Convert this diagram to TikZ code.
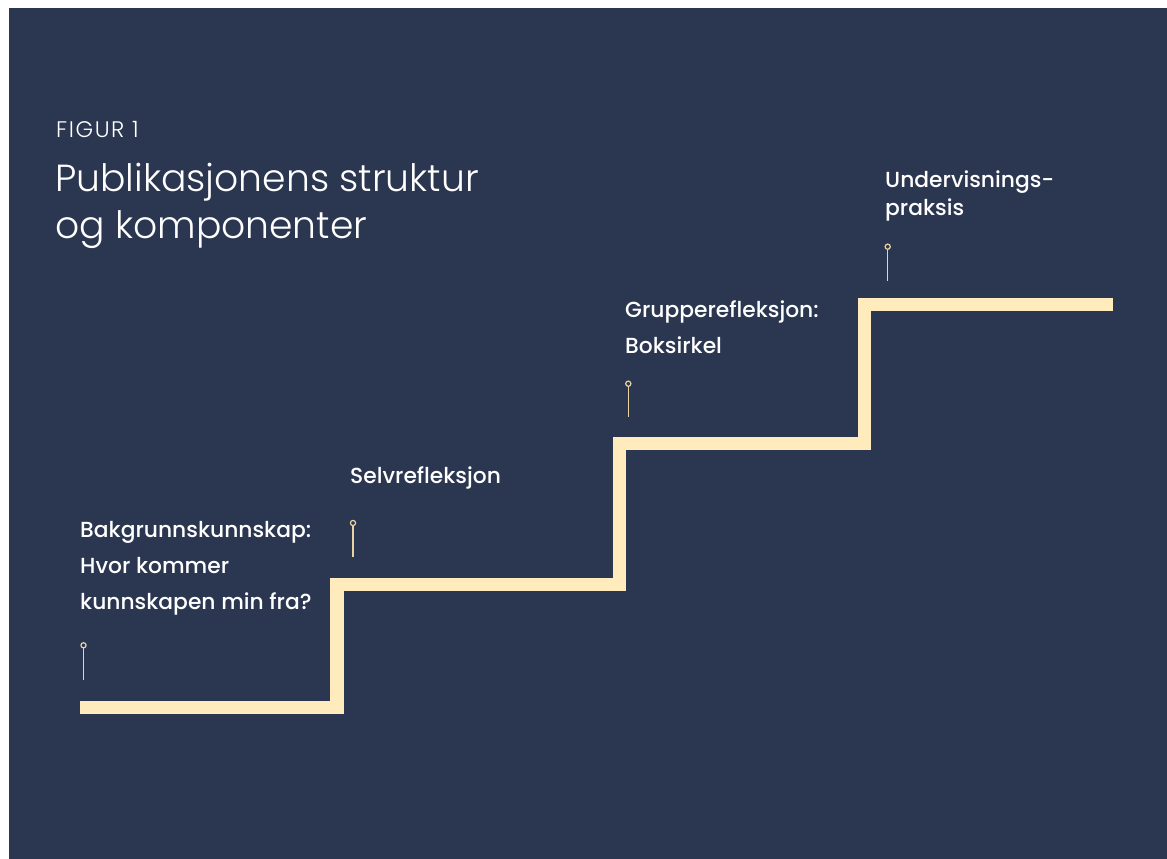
\documentclass[tikz,border=0pt]{standalone}
\usepackage{fontspec}
\setmainfont{Poppins}
\newfontfamily\lightfont{Poppins Light}
\newfontfamily\figfont[LetterSpace=7]{Poppins Light}
\newfontfamily\medfont{Poppins Medium}
\definecolor{bgnavy}{HTML}{2B3650}
\definecolor{stair}{HTML}{FFEBBC}
\definecolor{pin}{HTML}{E8D4A0}
\tikzset{
  label/.style={anchor=base west, inner sep=0pt, text=white, align=left, font=\medfont\fontsize{21.8}{36}\selectfont},
  pinline/.style={draw=pin, line width=1.2pt},
  pinhead/.style={draw=pin, line width=1.2pt, fill=bgnavy},
  stairline/.style={draw=stair, line width=13.5pt, line join=miter, line cap=butt}
}
\begin{document}
\begin{tikzpicture}[x=1pt,y=-1pt]
\useasboundingbox (0,0) rectangle (1167,859);
\fill[white] (0,0) rectangle (1167,859);
\fill[bgnavy] (9,8) rectangle (1167,859);
% titles
\node[anchor=base west, inner sep=0pt, text=white, font=\figfont\fontsize{22.5}{24}\selectfont] (fig) at (56,137) {FIGUR 1};
\node[anchor=base west, inner sep=0pt, text=white, align=left, font=\lightfont\fontsize{37.7}{47}\selectfont] (title) at (55,238) {Publikasjonens struktur\\og komponenter};
% staircase
\coordinate (s0) at (80,707.5);
\coordinate (s1) at (337,707.5);
\coordinate (s2) at (337,584.5);
\coordinate (s3) at (619.5,584.5);
\coordinate (s4) at (619.5,443.5);
\coordinate (s5) at (864.5,443.5);
\coordinate (s6) at (864.5,304.5);
\coordinate (s7) at (1113,304.5);
\draw[stairline] (s0) -- (s1) -- (s2) -- (s3) -- (s4) -- (s5) -- (s6) -- (s7);
% pins
\coordinate (p1) at (83.5,645.3);
\coordinate (p2) at (353,523);
\coordinate (p3) at (628.3,383.7);
\coordinate (p4) at (887.7,246.7);
\draw[pinline] ([yshift=-2.6pt]p1) -- +(0,32);
\draw[pinline] ([yshift=-2.6pt]p2) -- +(0,31);
\draw[pinline] ([yshift=-2.6pt]p3) -- +(0,31);
\draw[pinline] ([yshift=-2.6pt]p4) -- +(0,31.5);
\draw[pinhead] (p1) circle (2.6pt);
\draw[pinhead] (p2) circle (2.6pt);
\draw[pinhead] (p3) circle (2.6pt);
\draw[pinhead] (p4) circle (2.6pt);
% labels
\node[label] (l1) at (80,609) {Bakgrunnskunnskap:\\Hvor kommer\\kunnskapen min fra?};
\node[label] (l2) at (350,483) {Selvrefleksjon};
\node[label] (l3) at (625,353) {Grupperefleksjon:\\Boksirkel};
\node[label, font=\medfont\fontsize{21.8}{28}\selectfont] (l4) at (885,215) {Undervisnings-\\praksis};
\end{tikzpicture}
\end{document}
